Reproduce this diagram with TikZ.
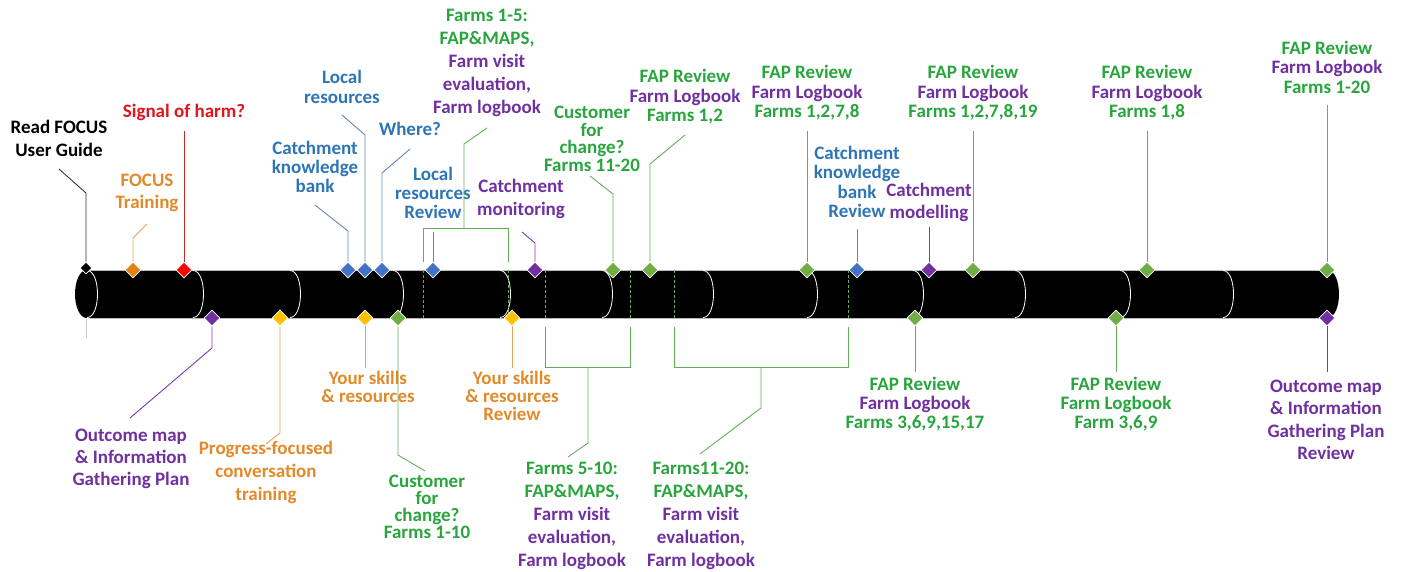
\documentclass[tikz,border=0pt]{standalone}
\usepackage{fontspec}
\setmainfont{Carlito}
\usetikzlibrary{shapes.geometric}
\definecolor{tgreen}{RGB}{40,165,60}
\definecolor{tpurple}{RGB}{112,48,160}
\definecolor{tblue}{RGB}{46,117,182}
\definecolor{torange}{RGB}{226,137,42}
\definecolor{tred}{RGB}{225,20,30}
\definecolor{dgreen}{RGB}{112,173,71}
\definecolor{dblue}{RGB}{68,114,196}
\definecolor{dpurple}{RGB}{112,48,160}
\definecolor{dorange}{RGB}{226,130,20}
\definecolor{dgold}{RGB}{255,192,0}
\definecolor{dred}{RGB}{255,0,0}
\definecolor{lgreen}{RGB}{100,172,90}
\definecolor{lblue}{RGB}{95,135,185}
\definecolor{lpurple}{RGB}{120,60,170}
\definecolor{lorange}{RGB}{225,165,90}
\definecolor{lred}{RGB}{200,40,40}
\definecolor{lblack}{RGB}{50,50,50}
\begin{document}
\begin{tikzpicture}[x=1pt,y=-1pt,
  lbl/.style={font=\fontsize{19}{#1}\selectfont\bfseries, align=center, inner sep=0pt},
  lbl/.default=20,
  dia/.style={diamond, minimum size=16pt, inner sep=0pt, draw=white, line width=0.6pt, fill=#1},
  ld/.style={draw=#1, line width=0.9pt},
  joint/.style={draw=white, line width=0.8pt},
  dsh/.style={draw=lgreen, line width=0.7pt, dash pattern=on 3pt off 2pt}]
\useasboundingbox (0,0) rectangle (1401,572);

% ---- cylinder bar ----
\fill[black] (87,270) rectangle (1327,318);
\fill[black] (1327,270) .. controls (1343,270) and (1343,318) .. (1327,318) -- cycle;
\fill[black] (86.5,294) ellipse [x radius=11.5, y radius=24];
\draw[gray!55, line width=0.6pt] (90,270) -- (1327,270) (90,318) -- (1327,318);
\foreach \x in {87,193,290,393,500,602,703,807,913,1015,1120,1223}
  \draw[joint] (\x,270.5) .. controls (\x+14,270.5) and (\x+14,317.5) .. (\x,317.5);
\draw[gray!45, line width=0.8pt] (86,319) -- (86,338);

% ---- bracket coordinates ----
\coordinate (bA1) at (423,228); \coordinate (bA2) at (508,228);
\coordinate (bA1d) at (423,262); \coordinate (bA2d) at (508,262);
\coordinate (bB1) at (545,367); \coordinate (bB2) at (630,367);
\coordinate (bB1u) at (545,327); \coordinate (bB2u) at (630,327);
\coordinate (bC1) at (674,367); \coordinate (bC2) at (848,367);
\coordinate (bC1u) at (674,327); \coordinate (bC2u) at (848,327);
\foreach \x in {423,508,545,630,674,848}
  \draw[dsh] (\x,270) -- (\x,318);

% ---- diamonds top ----
\node[dia=black, minimum size=12pt] (dRead) at (86,268) {};
\node[dia=dorange] (dTrain) at (133,270) {};
\node[dia=dred] (dHarm) at (184,270) {};
\node[dia=dblue] (dCkb) at (348,270) {};
\node[dia=dblue] (dLocal) at (365,270) {};
\node[dia=dblue] (dWhere) at (382,270) {};
\node[dia=dblue] (dLRR) at (433,270) {};
\node[dia=dpurple] (dMon) at (535,270) {};
\node[dia=dgreen] (dCust2) at (613,270) {};
\node[dia=dgreen] (dF12) at (650,270) {};
\node[dia=dgreen] (dF1278) at (807,270) {};
\node[dia=dblue] (dCkbR) at (857,270) {};
\node[dia=dpurple] (dMod) at (929,270) {};
\node[dia=dgreen] (dF127819) at (973,270) {};
\node[dia=dgreen] (dF18) at (1147,270) {};
\node[dia=dgreen] (dF120) at (1327,270) {};
% ---- diamonds bottom ----
\node[dia=dpurple] (dOut) at (212,318) {};
\node[dia=dgold] (dProg) at (280,318) {};
\node[dia=dgold] (dSkill) at (365,318) {};
\node[dia=dgreen] (dCust1) at (398,318) {};
\node[dia=dgold] (dSkillR) at (512,318) {};
\node[dia=dgreen] (dF3a) at (915,318) {};
\node[dia=dgreen] (dF3b) at (1116,318) {};
\node[dia=dpurple] (dOutR) at (1327,318) {};

% ---- labels top ----
\node[lbl=23, text=black] (tRead) at (59,138) {Read FOCUS\\User Guide};
\node[lbl, text=tred] (tHarm) at (184,112) {Signal of harm?};
\node[lbl=22, text=torange] (tTrain) at (147,193) {FOCUS\\Training};
\node[lbl=20, text=tblue] (tLocal) at (342,87) {Local\\resources};
\node[lbl, text=tblue] (tWhere) at (410,129) {Where?};
\node[lbl=19, text=tblue] (tCkb) at (315,167) {Catchment\\knowledge\\bank};
\node[lbl=19, text=tblue] (tLRR) at (433,193) {Local\\resources\\Review};
\node[lbl=23] (tF15) at (487,63) {\textcolor{tgreen}{Farms 1-5:}\\\textcolor{tgreen}{FAP\&MAPS,}\\\textcolor{tpurple}{Farm visit}\\\textcolor{tpurple}{evaluation,}\\\textcolor{tpurple}{Farm logbook}};
\node[lbl=23, text=tpurple] (tMon) at (521,199) {Catchment\\monitoring};
\node[lbl=17.5, text=tgreen] (tCust2) at (592,139) {Customer\\for\\change?\\Farms 11-20};
\node[lbl=19.5] (tF12) at (685,97) {\textcolor{tgreen}{FAP Review}\\\textcolor{tpurple}{Farm Logbook}\\\textcolor{tgreen}{Farms 1,2}};
\node[lbl=19.5] (tF1278) at (807,93) {\textcolor{tgreen}{FAP Review}\\\textcolor{tpurple}{Farm Logbook}\\\textcolor{tgreen}{Farms 1,2,7,8}};
\node[lbl=19.5, text=tblue] (tCkbR) at (857,182) {Catchment\\knowledge\\bank\\Review};
\node[lbl=22, text=tpurple] (tMod) at (929,202) {Catchment\\modelling};
\node[lbl=19.5] (tF127819) at (973,93) {\textcolor{tgreen}{FAP Review}\\\textcolor{tpurple}{Farm Logbook}\\\textcolor{tgreen}{Farms 1,2,7,8,19}};
\node[lbl=19.5] (tF18) at (1147,93) {\textcolor{tgreen}{FAP Review}\\\textcolor{tpurple}{Farm Logbook}\\\textcolor{tgreen}{Farms 1,8}};
\node[lbl=19.5] (tF120) at (1327,67) {\textcolor{tgreen}{FAP Review}\\\textcolor{tpurple}{Farm Logbook}\\\textcolor{tgreen}{Farms 1-20}};
% ---- labels bottom ----
\node[lbl=22, text=tpurple] (tOut) at (131,459) {Outcome map\\\& Information\\Gathering Plan};
\node[lbl=23, text=torange] (tProg) at (266,472) {Progress-focused\\conversation\\training};
\node[lbl=18, text=torange] (tSkill) at (368,387) {Your skills\\\& resources};
\node[lbl=17, text=tgreen] (tCust1) at (427,507) {Customer\\for\\change?\\Farms 1-10};
\node[lbl=18, text=torange] (tSkillR) at (512,396) {Your skills\\\& resources\\Review};
\node[lbl=23] (tF510) at (572,516) {\textcolor{tgreen}{Farms 5-10:}\\\textcolor{tgreen}{FAP\&MAPS,}\\\textcolor{tpurple}{Farm visit}\\\textcolor{tpurple}{evaluation,}\\\textcolor{tpurple}{Farm logbook}};
\node[lbl=23] (tF1120) at (701,516) {\textcolor{tgreen}{Farms11-20:}\\\textcolor{tgreen}{FAP\&MAPS,}\\\textcolor{tpurple}{Farm visit}\\\textcolor{tpurple}{evaluation,}\\\textcolor{tpurple}{Farm logbook}};
\node[lbl=19] (tF3a) at (915,404) {\textcolor{tgreen}{FAP Review}\\\textcolor{tpurple}{Farm Logbook}\\\textcolor{tgreen}{Farms 3,6,9,15,17}};
\node[lbl=19] (tF3b) at (1116,404) {\textcolor{tgreen}{FAP Review}\\\textcolor{tgreen}{Farm Logbook}\\\textcolor{tgreen}{Farm 3,6,9}};
\node[lbl=22.5, text=tpurple] (tOutR) at (1326,420) {Outcome map\\\& Information\\Gathering Plan\\Review};

% ---- leader coordinates ----
\coordinate (kRead) at (86,193); \coordinate (eRead) at (59,169);
\coordinate (kTrain) at (133,238); \coordinate (eTrain) at (147,224);
\coordinate (eHarm) at (184,131);
\coordinate (kCkb) at (348,231); \coordinate (eCkb) at (315,205);
\coordinate (kLocal) at (365,135); \coordinate (eLocal) at (342,115);
\coordinate (kWhere) at (382,173); \coordinate (eWhere) at (410,149);
\coordinate (eLRR) at (433,232);
\coordinate (mA) at (464,228); \coordinate (kA) at (464,144); \coordinate (eA) at (487,128);
\coordinate (kMon) at (535,243); \coordinate (eMon) at (522,232);
\coordinate (kCust2) at (613,194); \coordinate (eCust2) at (590,176);
\coordinate (kF12) at (650,164); \coordinate (eF12) at (685,135);
\coordinate (eF1278) at (807,131);
\coordinate (eCkbR) at (857,229);
\coordinate (eMod) at (929,227);
\coordinate (eF127819) at (973,131);
\coordinate (eF18) at (1147,131);
\coordinate (eF120) at (1327,105);
\coordinate (kOut) at (212,348); \coordinate (eOut) at (130,418);
\coordinate (kProg) at (280,433); \coordinate (eProg) at (266,444);
\coordinate (eSkill) at (365,368);
\coordinate (kCust1) at (398,455); \coordinate (eCust1) at (425,471);
\coordinate (eSkillR) at (512,368);
\coordinate (mB) at (588,367); \coordinate (kB) at (588,443); \coordinate (eB) at (568,457);
\coordinate (mC) at (761,367); \coordinate (kC) at (761,408); \coordinate (eC) at (700,454);
\coordinate (eF3a) at (915,372);
\coordinate (eF3b) at (1116,372);
\coordinate (eOutR) at (1327,372);

% ---- leaders top ----
\begin{scope}[on background layer/.style={}]
\draw[ld=lblack] (dRead.north) -- (kRead) -- (eRead);
\draw[ld=lorange] (dTrain.north) -- (kTrain) -- (eTrain);
\draw[ld=lred] (dHarm.north) -- (eHarm);
\draw[ld=lblue] (dCkb.north) -- (kCkb) -- (eCkb);
\draw[ld=lblue] (dLocal.north) -- (kLocal) -- (eLocal);
\draw[ld=lblue] (dWhere.north) -- (kWhere) -- (eWhere);
\draw[ld=lblue] (dLRR.north) -- (eLRR);
\draw[ld=lgreen] (bA1d) -- (bA1) -- (bA2) -- (bA2d);
\draw[ld=lgreen] (mA) -- (kA) -- (eA);
\draw[ld=lpurple] (dMon.north) -- (kMon) -- (eMon);
\draw[ld=lgreen] (dCust2.north) -- (kCust2) -- (eCust2);
\draw[ld=lgreen] (dF12.north) -- (kF12) -- (eF12);
\draw[ld=lgreen] (dF1278.north) -- (eF1278);
\draw[ld=lblue] (dCkbR.north) -- (eCkbR);
\draw[ld=lpurple] (dMod.north) -- (eMod);
\draw[ld=lgreen] (dF127819.north) -- (eF127819);
\draw[ld=lgreen] (dF18.north) -- (eF18);
\draw[ld=lgreen] (dF120.north) -- (eF120);
% ---- leaders bottom ----
\draw[ld=lpurple] (dOut.south) -- (kOut) -- (eOut);
\draw[ld=lorange] (dProg.south) -- (kProg) -- (eProg);
\draw[ld=lorange] (dSkill.south) -- (eSkill);
\draw[ld=lgreen] (dCust1.south) -- (kCust1) -- (eCust1);
\draw[ld=lorange] (dSkillR.south) -- (eSkillR);
\draw[ld=lgreen] (bB1u) -- (bB1) -- (bB2) -- (bB2u);
\draw[ld=lgreen] (mB) -- (kB) -- (eB);
\draw[ld=lgreen] (bC1u) -- (bC1) -- (bC2) -- (bC2u);
\draw[ld=lgreen] (mC) -- (kC) -- (eC);
\draw[ld=lgreen] (dF3a.south) -- (eF3a);
\draw[ld=lgreen] (dF3b.south) -- (eF3b);
\draw[ld=lpurple] (dOutR.south) -- (eOutR);
\end{scope}
\end{tikzpicture}
\end{document}
